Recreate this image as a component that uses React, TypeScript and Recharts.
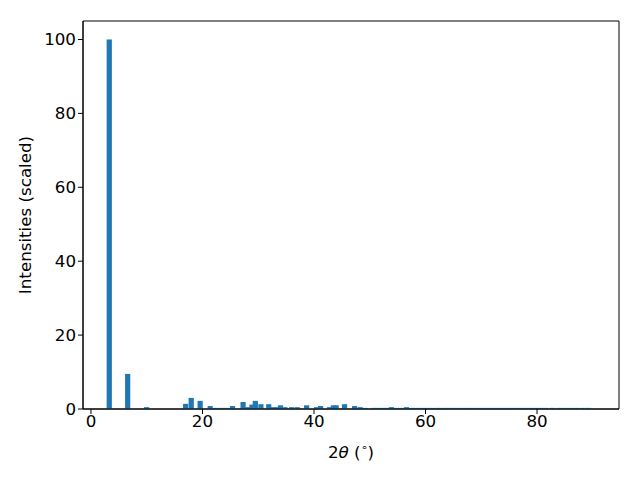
import { BarChart, Bar, XAxis, YAxis, ReferenceArea } from "recharts";

const twoTheta = [
  3.3, 6.6, 10.0, 17.0, 18.0, 19.6, 21.4, 22.4, 23.3, 24.3, 25.4, 27.3, 28.1, 28.9, 29.5,
  30.5, 31.9, 32.6, 33.4, 34.0, 34.8, 36.0, 37.0, 38.7, 40.5, 41.2, 42.8, 43.5, 44.0, 45.5,
  47.3, 48.3, 49.2, 50.7, 51.5, 52.3, 53.1, 53.9, 54.8, 55.6, 56.6, 57.5, 58.3, 59.2, 60.1,
  61.0, 62.0, 62.8, 63.7, 64.4, 65.3, 66.3, 67.2, 68.0, 69.0, 69.9, 70.8, 71.7, 72.6, 73.5,
  74.4, 75.3, 76.2, 77.1, 78.0, 78.9, 79.8, 80.7, 81.6, 82.8, 84.0, 85.0, 86.0, 87.1, 88.2,
  89.2,
];

const intensity = [
  100, 9.5, 0.5, 1.4, 3.0, 2.2, 0.8, 0.3, 0.3, 0.3, 0.8, 1.9, 0.5, 1.2, 2.2,
  1.3, 1.3, 0.5, 0.5, 1.0, 0.5, 0.5, 0.5, 1.0, 0.5, 0.8, 0.5, 1.0, 1.0, 1.3,
  0.8, 0.5, 0.3, 0.3, 0.3, 0.3, 0.3, 0.5, 0.3, 0.3, 0.5, 0.3, 0.3, 0.3, 0.3,
  0.3, 0.3, 0.3, 0.3, 0.3, 0.3, 0.3, 0.3, 0.3, 0.3, 0.3, 0.3, 0.3, 0.3, 0.3,
  0.3, 0.3, 0.3, 0.3, 0.3, 0.3, 0.3, 0.3, 0.3, 0.3, 0.3, 0.3, 0.3, 0.3, 0.3,
  0.3,
];

const xTicks = [0, 20, 40, 60, 80];
const yTicks = [0, 20, 40, 60, 80, 100];

const data = twoTheta.map((x, i) => ({ x, y: intensity[i] }));

const font = "DejaVu Sans";
const fs = 16.7;
const xDomain: [number, number] = [-1.43, 94.7];
const yDomain: [number, number] = [0, 105];

// bars are about 1 degree wide; recharts would shrink them to the smallest gap
const WideBar = (props: any) => {
  const { x, y, width, height, fill } = props;
  const w = 5.2;
  const cx = x + width / 2;
  return <rect x={cx - w / 2} y={y} width={w} height={height} fill={fill} />;
};

const XLabel = ({ viewBox }: any) => {
  const cx = viewBox.x + viewBox.width / 2;
  return (
    <text x={cx} y={458} textAnchor="middle" fontFamily={font} fontSize={fs} fill="#000">
      <tspan>2</tspan>
      <tspan fontStyle="italic">θ</tspan>
      <tspan> (</tspan>
      <tspan fontSize={11} dy={-7}>∘</tspan>
      <tspan dy={7}>)</tspan>
    </text>
  );
};

export default function App() {
  return (
    <div style={{ position: "absolute", left: 0, top: 0, width: 640, height: 480, background: "#fff" }}>
      <BarChart
        width={640}
        height={480}
        data={data}
        margin={{ top: 21, right: 21, bottom: 0, left: 0 }}
      >
        <XAxis
          dataKey="x"
          type="number"
          domain={xDomain}
          ticks={xTicks}
          allowDataOverflow
          height={71}
          tickSize={5}
          tickMargin={1}
          stroke="#000"
          tick={{ fill: "#000", fontSize: fs, fontFamily: font }}
          tickLine={{ stroke: "#000" }}
          axisLine={{ stroke: "#000" }}
          label={<XLabel />}
        />
        <YAxis
          type="number"
          domain={yDomain}
          ticks={yTicks}
          allowDataOverflow
          width={83}
          tickSize={5}
          tickMargin={2}
          stroke="#000"
          tick={{ fill: "#000", fontSize: fs, fontFamily: font }}
          tickLine={{ stroke: "#000" }}
          axisLine={{ stroke: "#000" }}
          label={{
            value: "Intensities (scaled)",
            angle: -90,
            position: "insideLeft",
            offset: 25,
            style: { textAnchor: "middle", fontFamily: font, fontSize: fs, fill: "#000" },
          }}
        />
        <Bar dataKey="y" fill="#1f77b4" shape={<WideBar />} isAnimationActive={false} />
        <ReferenceArea
          x1={xDomain[0]}
          x2={xDomain[1]}
          y1={yDomain[0]}
          y2={yDomain[1]}
          fill="none"
          stroke="#000"
          strokeWidth={1}
          ifOverflow="visible"
        />
      </BarChart>
    </div>
  );
}
